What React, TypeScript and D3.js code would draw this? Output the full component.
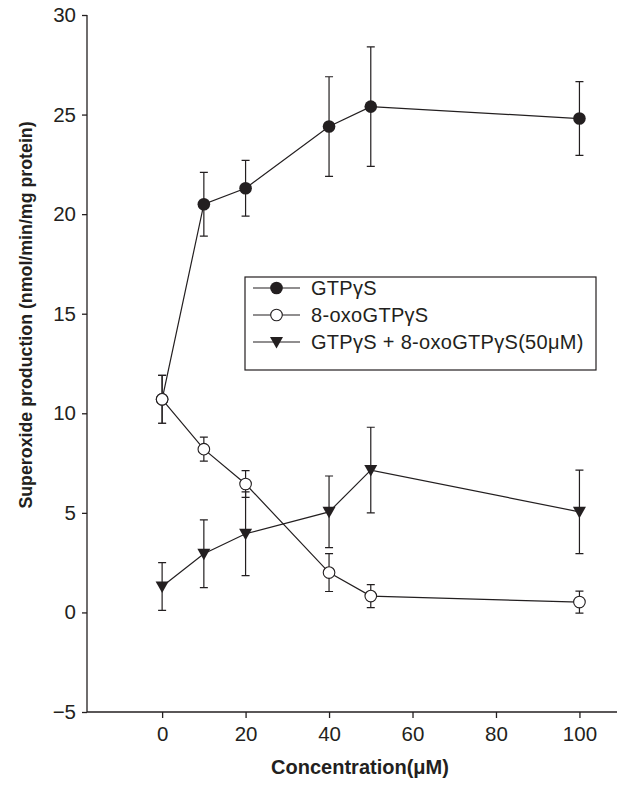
import React, { useEffect, useRef } from "react";
import * as d3 from "d3";

// concentrations (uM)
const conc = [0, 10, 20, 40, 50, 100];

const gtpMean = [10.7, 20.5, 21.3, 24.4, 25.4, 24.8];
const gtpErr = [1.2, 1.6, 1.4, 2.5, 3.0, 1.85];

const oxoMean = [10.7, 8.2, 6.45, 2.0, 0.82, 0.52];
const oxoErr = [1.2, 0.6, 0.67, 0.95, 0.58, 0.55];

const mixMean = [1.3, 2.95, 3.95, 5.05, 7.15, 5.05];
const mixErr = [1.2, 1.7, 2.1, 1.8, 2.15, 2.1];

const xTicks = [0, 20, 40, 60, 80, 100];
const yTicks = [-5, 0, 5, 10, 15, 20, 25, 30];

const legendLabels = ["GTPγS", "8-oxoGTPγS", "GTPγS + 8-oxoGTPγS(50μM)"];

const W = 617,
  H = 785;
const margin = { top: 15, left: 87, bottom: 73, right: 0 };
const ink = "#231f20";
const font = "'Liberation Sans', Arial, Helvetica, sans-serif";

const xScale = d3.scaleLinear().domain([-18, 109]).range([margin.left, W - margin.right]);
const yScale = d3.scaleLinear().domain([-5, 30]).range([H - margin.bottom, margin.top]);

// marker drawing helper
const drawMarker = (g, kind, cx, cy) => {
  if (kind === "filled") {
    g.append("circle").attr("cx", cx).attr("cy", cy).attr("r", 6.3).attr("fill", ink);
  } else if (kind === "open") {
    g.append("circle")
      .attr("cx", cx)
      .attr("cy", cy)
      .attr("r", 5.8)
      .attr("fill", "white")
      .attr("stroke", ink)
      .attr("stroke-width", 1.1);
  } else {
    g.append("path")
      .attr("d", `M${cx - 6.5},${cy - 5} L${cx + 6.5},${cy - 5} L${cx},${cy + 6.5} Z`)
      .attr("fill", ink);
  }
};

const series = [
  { mean: gtpMean, err: gtpErr, kind: "filled" },
  { mean: mixMean, err: mixErr, kind: "tri" },
  { mean: oxoMean, err: oxoErr, kind: "open" },
];

export default function App() {
  const ref = useRef(null);

  useEffect(() => {
    const svg = d3.select(ref.current);
    svg.selectAll("*").remove();

    // axes
    const yAxis = svg
      .append("g")
      .attr("transform", `translate(${margin.left},0)`)
      .call(d3.axisLeft(yScale).tickValues(yTicks).tickSize(5).tickPadding(6).tickFormat((d) => (d < 0 ? "\u2212" + Math.abs(d) : d)));
    yAxis.select(".domain").attr("d", `M0,${yScale(30)}V${yScale(-5)}`);

    const xAxis = svg
      .append("g")
      .attr("transform", `translate(0,${yScale(-5)})`)
      .call(d3.axisBottom(xScale).tickValues(xTicks).tickSize(6).tickPadding(8));
    xAxis.select(".domain").attr("d", `M${xScale(-18)},0H${xScale(109)}`);

    svg.selectAll(".tick text").attr("font-size", 20.5).attr("font-family", font).attr("fill", ink);
    svg.selectAll(".domain, .tick line").attr("stroke", ink).attr("stroke-width", 1.3);

    // series
    const line = d3
      .line()
      .x((d) => xScale(d[0]))
      .y((d) => yScale(d[1]));

    series.forEach((s) => {
      const g = svg.append("g");
      const pts = conc.map((c, i) => [c, s.mean[i]]);
      g.append("path")
        .attr("d", line(pts))
        .attr("fill", "none")
        .attr("stroke", ink)
        .attr("stroke-width", 1.2);
      conc.forEach((c, i) => {
        const x = xScale(c);
        const y1 = yScale(s.mean[i] + s.err[i]);
        const y2 = yScale(s.mean[i] - s.err[i]);
        g.append("path")
          .attr("d", `M${x},${y1}V${y2}M${x - 4},${y1}H${x + 4}M${x - 4},${y2}H${x + 4}`)
          .attr("stroke", ink)
          .attr("stroke-width", 1.2)
          .attr("fill", "none");
      });
      conc.forEach((c, i) => drawMarker(g, s.kind, xScale(c), yScale(s.mean[i])));
    });

    // legend
    const lg = svg.append("g");
    lg.append("rect")
      .attr("x", 245)
      .attr("y", 277)
      .attr("width", 351)
      .attr("height", 93)
      .attr("fill", "white")
      .attr("stroke", ink)
      .attr("stroke-width", 1.2);
    const kinds = ["filled", "open", "tri"];
    legendLabels.forEach((lab, i) => {
      const cy = 288 + i * 27;
      lg.append("line")
        .attr("x1", 253)
        .attr("x2", 300)
        .attr("y1", cy)
        .attr("y2", cy)
        .attr("stroke", ink)
        .attr("stroke-width", 1.2);
      drawMarker(lg, kinds[i], 276.5, cy);
      lg.append("text")
        .attr("x", 311)
        .attr("y", cy + 7)
        .attr("font-size", 20)
        .attr("letter-spacing", 0.3)
        .attr("font-family", font)
        .attr("fill", ink)
        .text(lab);
    });

    // axis titles
    svg
      .append("text")
      .attr("x", 360)
      .attr("y", 774)
      .attr("text-anchor", "middle")
      .attr("font-size", 20)
      .attr("font-weight", "bold")
      .attr("font-family", font)
      .attr("fill", ink)
      .text("Concentration(μM)");

    svg
      .append("text")
      .attr("transform", `translate(32,315) rotate(-90)`)
      .attr("text-anchor", "middle")
      .attr("font-size", 17.8)
      .attr("font-weight", "bold")
      .attr("font-family", font)
      .attr("fill", ink)
      .text("Superoxide production (nmol/min/mg protein)");
  }, []);

  return (
    <svg
      ref={ref}
      width={W}
      height={H}
      style={{ position: "absolute", left: 0, top: 0, background: "white" }}
    />
  );
}
